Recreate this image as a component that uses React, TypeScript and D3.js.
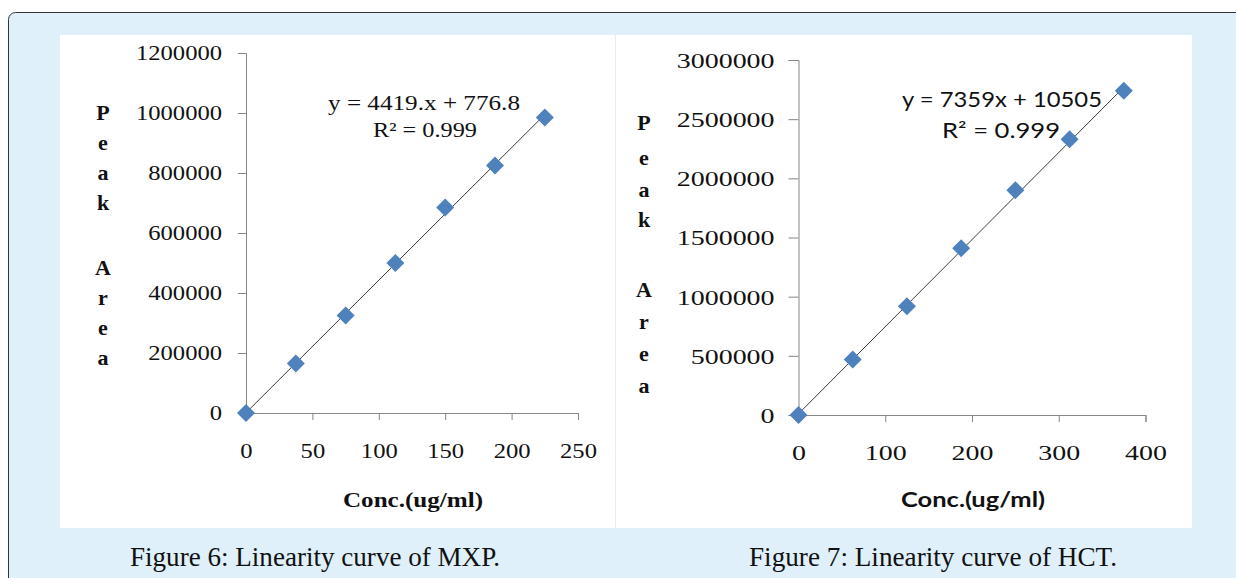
import * as d3 from 'd3';
import React, { useEffect, useRef } from 'react';

// MXP (Figure 6)
const mxpConc = [0, 37.5, 75, 112.5, 150, 187.5, 225];
const mxpArea = [0, 165000, 325000, 500000, 685000, 825000, 985000];
const mxpXTicks = [0, 50, 100, 150, 200, 250];
const mxpYTicks = [0, 200000, 400000, 600000, 800000, 1000000, 1200000];
const mxpFit = [4419, 776.8];
const mxpEquation = ['y = 4419.x + 776.8', 'R² = 0.999'];

// HCT (Figure 7)
const hctConc = [0, 62.5, 125, 187.5, 250, 312.5, 375];
const hctArea = [0, 470000, 920000, 1410000, 1900000, 2330000, 2740000];
const hctXTicks = [0, 100, 200, 300, 400];
const hctYTicks = [0, 500000, 1000000, 1500000, 2000000, 2500000, 3000000];
const hctFit = [7359, 10505];
const hctEquation = ['y = 7359x + 10505', 'R² = 0.999'];

const yTitle = ['P', 'e', 'a', 'k', '', 'A', 'r', 'e', 'a'];
const xTitle = 'Conc.(ug/ml)';
const captions = ['Figure 6: Linearity curve of MXP.', 'Figure 7: Linearity curve of HCT.'];

const serif = '"Liberation Serif", "Times New Roman", serif';
const sans = 'Lato, "Open Sans", sans-serif';

function drawChart(svg, o) {
    const x = d3.scaleLinear().domain([0, o.xMax]).range([o.x0, o.x1]);
    const y = d3.scaleLinear().domain([0, o.yMax]).range([o.y0, o.y1]);

    const g = svg.append('g');

    // y axis
    const ya = g.append('g')
        .attr('transform', `translate(${o.x0},0)`)
        .call(d3.axisLeft(y).tickValues(o.yTicks).tickSize(o.tick).tickFormat(d3.format('d')));
    ya.select('.domain').attr('stroke', '#868686');
    ya.selectAll('.tick line').attr('stroke', '#868686');
    ya.selectAll('.tick text')
        .attr('font-family', serif)
        .attr('font-size', o.fs)
        .attr('fill', '#111')
        .attr('dy', '0.34em')
        .attr('x', -o.gap / o.sx)
        .attr('transform', `scale(${o.sx},1)`);

    // x axis
    const xa = g.append('g')
        .attr('transform', `translate(0,${o.y0})`)
        .call(d3.axisBottom(x).tickValues(o.xTicks).tickSize(7).tickFormat(d3.format('d')));
    xa.select('.domain').attr('stroke', '#868686');
    xa.selectAll('.tick line').attr('stroke', '#868686');
    xa.selectAll('.tick text')
        .attr('font-family', serif)
        .attr('font-size', o.fs)
        .attr('fill', '#111')
        .attr('dy', 0)
        .attr('y', o.xLabDy)
        .attr('transform', `scale(${o.sx},1)`);

    // trend line
    const xe = d3.max(o.conc);
    g.append('line')
        .attr('x1', x(0)).attr('y1', y(o.fit[1]))
        .attr('x2', x(xe)).attr('y2', y(o.fit[0] * xe + o.fit[1]))
        .attr('stroke', '#3c3c3c')
        .attr('stroke-width', 1);

    // markers
    g.selectAll('.pt')
        .data(o.conc)
        .enter().append('path')
        .attr('class', 'pt')
        .attr('d', 'M0,-9L9,0L0,9L-9,0Z')
        .attr('transform', (d, i) => `translate(${x(d)},${y(o.area[i])})`)
        .attr('fill', '#4f81bd');

    // equation
    o.eq.forEach((t, i) => {
        g.append('text')
            .attr('x', o.eqX[i]).attr('y', o.eqY[i])
            .attr('text-anchor', 'middle')
            .attr('font-family', o.eqFont)
            .attr('font-size', o.eqFs)
            .attr('fill', '#111')
            .attr('textLength', o.eqW[i])
            .attr('lengthAdjust', 'spacingAndGlyphs')
            .text(t);
    });

    // y title, one letter per row
    yTitle.forEach((c, i) => {
        if (!c) return;
        g.append('text')
            .attr('x', o.ytX)
            .attr('y', o.ytY[i])
            .attr('text-anchor', 'middle')
            .attr('font-family', serif)
            .attr('font-weight', 'bold')
            .attr('font-size', 22)
            .attr('fill', '#111')
            .text(c);
    });

    // x title
    g.append('text')
        .attr('x', o.xtX).attr('y', 507)
        .attr('text-anchor', 'middle')
        .attr('font-family', o.xtFont)
        .attr('font-weight', 'bold')
        .attr('font-size', 20)
        .attr('fill', '#111')
        .attr('textLength', o.xtW)
        .attr('lengthAdjust', 'spacingAndGlyphs')
        .text(xTitle);
}

function App() {
    const ref = useRef(null);

    useEffect(() => {
        const svg = d3.select(ref.current);
        svg.selectAll('*').remove();

        // frame and panels
        svg.append('rect')
            .attr('x', 8.5).attr('y', 12.5)
            .attr('width', 1300).attr('height', 700)
            .attr('rx', 7)
            .attr('fill', '#dff0fb')
            .attr('stroke', '#333');
        svg.append('rect')
            .attr('x', 60).attr('y', 35)
            .attr('width', 1132).attr('height', 493)
            .attr('fill', '#fff');
        svg.append('line')
            .attr('x1', 615.5).attr('x2', 615.5)
            .attr('y1', 35).attr('y2', 528)
            .attr('stroke', '#e3eef8');

        drawChart(svg, {
            conc: mxpConc, area: mxpArea, fit: mxpFit, eq: mxpEquation,
            xTicks: mxpXTicks, yTicks: mxpYTicks, xMax: 250, yMax: 1200000,
            x0: 246, x1: 578, y0: 413, y1: 53,
            tick: 8, gap: 24, fs: 20.5, sx: 1.2, xLabDy: 45,
            eqX: [424, 425], eqY: [110, 137], eqW: [192, 104], eqFont: serif, eqFs: 21,
            ytX: 103, ytY: [120, 150, 180, 210, 0, 275, 305, 335, 365],
            xtX: 413, xtW: 140, xtFont: serif,
        });

        drawChart(svg, {
            conc: hctConc, area: hctArea, fit: hctFit, eq: hctEquation,
            xTicks: hctXTicks, yTicks: hctYTicks, xMax: 400, yMax: 3000000,
            x0: 798.5, x1: 1145.5, y0: 415, y1: 60,
            tick: 10, gap: 24, fs: 22, sx: 1.27, xLabDy: 45,
            eqX: [1002, 1001], eqY: [107, 138], eqW: [200, 118], eqFont: sans, eqFs: 21,
            ytX: 644, ytY: [130, 165, 197, 227, 0, 297, 329, 361, 393],
            xtX: 973, xtW: 144, xtFont: sans,
        });

        // captions
        [[315, 370], [933, 368]].forEach(([cx, w], i) => {
            svg.append('text')
                .attr('x', cx).attr('y', 566)
                .attr('text-anchor', 'middle')
                .attr('font-family', serif)
                .attr('font-size', 27)
                .attr('fill', '#111')
                .attr('textLength', w)
                .attr('lengthAdjust', 'spacingAndGlyphs')
                .text(captions[i]);
        });
    }, []);

    return (
        <svg ref={ref} width={1236} height={578}
            style={{ position: 'absolute', left: 0, top: 0, display: 'block' }}></svg>
    );
}

export default App;
